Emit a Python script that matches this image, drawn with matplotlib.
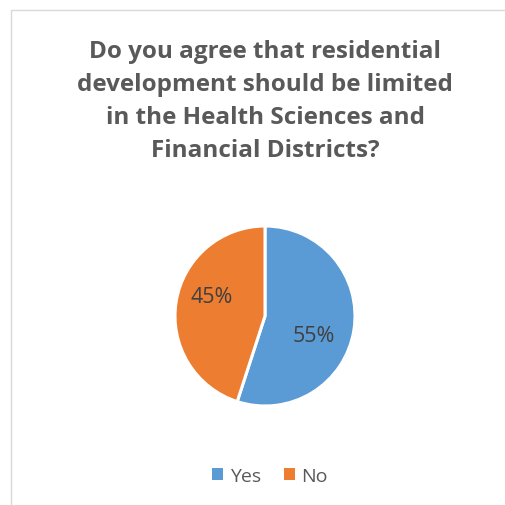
import matplotlib
matplotlib.use("Agg")
import matplotlib.pyplot as plt
from matplotlib.patches import Rectangle, Patch
import numpy as np

title = "Do you agree that residential\ndevelopment should be limited\nin the Health Sciences and\nFinancial Districts?"
categories = ["Yes", "No"]
shares = [55, 45]
colors = ["#5B9BD5", "#ED7D31"]

W, H = 505, 506
fig = plt.figure(figsize=(W / 100, H / 100), dpi=100)
fig.patch.set_facecolor("white")

# chart frame (open to the right and bottom)
fig.add_artist(Rectangle((11 / W, -0.1), 1.2, (H - 11) / H + 0.1,
                         transform=fig.transFigure, fill=False,
                         edgecolor="#D9D9D9", linewidth=1.0))

fig.text(265 / W, 1 - 40 / H, title, ha="center", va="top",
         fontsize=17.5, fontweight="bold", color="#595959",
         family="Open Sans", linespacing=1.5)

cx, cy, r = 265, 317, 90
ax = fig.add_axes([(cx - r) / W, (H - cy - r) / H, 2 * r / W, 2 * r / H])
wedges, texts, autotexts = ax.pie(
    shares, colors=colors, startangle=90, counterclock=False,
    autopct=lambda p: f"{p:.0f}%", pctdistance=0.6,
    wedgeprops=dict(edgecolor="white", linewidth=2.2),
    textprops=dict(fontsize=15.5, color="#404040", family="Open Sans"))
ax.set_xlim(-1, 1)
ax.set_ylim(-1, 1)
ax.set_aspect("auto")
ax.axis("off")

# nudge the percentage labels to sit like best-fit labels
offsets = [(-22, 0.59), (160, 0.625)]
for t, (ang, d) in zip(autotexts, offsets):
    a = np.deg2rad(ang)
    t.set_position((d * np.cos(a), d * np.sin(a)))

handles = [Patch(facecolor=c, edgecolor="none") for c in colors]
fig.legend(handles, categories, loc="center", bbox_to_anchor=(270 / W, 1 - 477 / H),
           ncol=2, frameon=False, handlelength=0.55, handleheight=0.55,
           handletextpad=0.35, columnspacing=1.2,
           prop=dict(family="Open Sans", size=14), labelcolor="#595959")

fig.savefig("out.png", dpi=100, facecolor="white")
